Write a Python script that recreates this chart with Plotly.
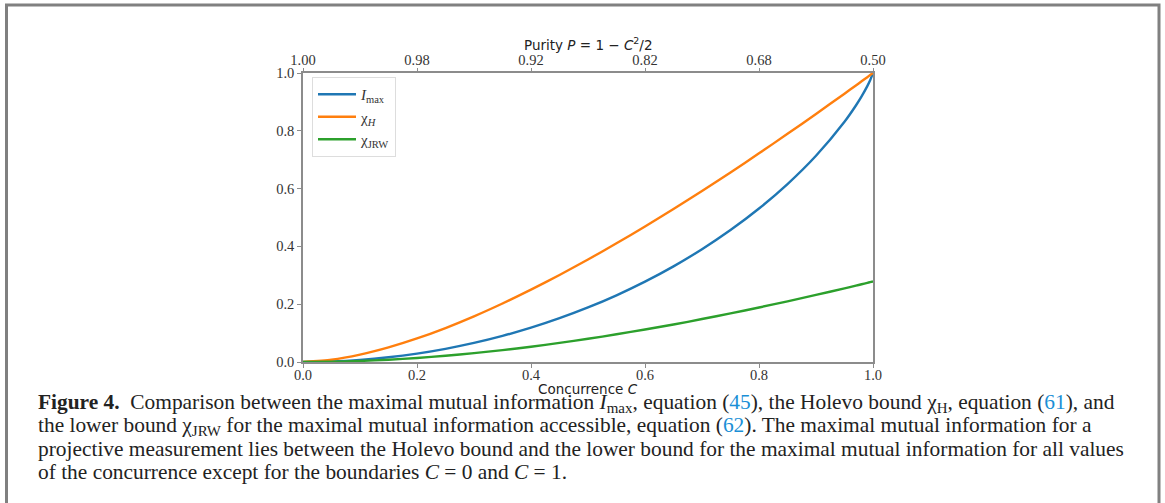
import plotly.graph_objects as go

# ---- data ----
concurrence = [0.0, 0.05, 0.1, 0.15, 0.2, 0.25, 0.3, 0.35, 0.4, 0.45, 0.5,
               0.55, 0.6, 0.65, 0.7, 0.75, 0.8, 0.85, 0.9, 0.95, 0.97, 0.98, 0.99, 0.995, 1.0]
i_max = [0.0, 0.0018, 0.0072, 0.0163, 0.0291, 0.0456, 0.0659, 0.0903, 0.1187, 0.1515, 0.1887,
         0.2308, 0.2781, 0.3310, 0.3902, 0.4564, 0.5310, 0.6157, 0.7136, 0.8313, 0.8876, 0.9192, 0.9546, 0.9748, 1.0]
chi_h = [0.0, 0.0076, 0.0253, 0.0504, 0.0815, 0.1176, 0.1581, 0.2025, 0.2502, 0.3010, 0.3546,
         0.4107, 0.4690, 0.5295, 0.5919, 0.6561, 0.7219, 0.7894, 0.8583, 0.9285, 0.9570, 0.9712, 0.9856, 0.9928, 1.0]
chi_jrw = [0.0, 0.0009, 0.0036, 0.0079, 0.0140, 0.0215, 0.0306, 0.0411, 0.0529, 0.0660, 0.0803,
           0.0958, 0.1124, 0.1297, 0.1486, 0.1681, 0.1886, 0.2099, 0.2321, 0.2550, 0.2643, 0.2690, 0.2738, 0.2762, 0.2787]

bottom_ticks = [0.0, 0.2, 0.4, 0.6, 0.8, 1.0]
bottom_ticktext = ["0.0", "0.2", "0.4", "0.6", "0.8", "1.0"]
top_ticktext = ["1.00", "0.98", "0.92", "0.82", "0.68", "0.50"]
y_ticks = [0.0, 0.2, 0.4, 0.6, 0.8, 1.0]
y_ticktext = ["0.0", "0.2", "0.4", "0.6", "0.8", "1.0"]

series_names = ["<i>I</i><sub>max</sub>", "χ<sub><i>H</i></sub>", "χ<sub>JRW</sub>"]
series_colors = ["#1f77b4", "#ff7f0e", "#2ca02c"]

x_title = "Concurrence <i>C</i>"
top_title = "Purity <i>P</i> = 1 − <i>C</i><sup>2</sup>/2"

caption_lines = [
    "<b>Figure 4.</b>  Comparison between the maximal mutual information <i>I</i><sub>max</sub>, equation (<span style='color:#1a8fd6'>45</span>), the Holevo bound χ<sub>H</sub>, equation (<span style='color:#1a8fd6'>61</span>), and",
    "the lower bound χ<sub>JRW</sub> for the maximal mutual information accessible, equation (<span style='color:#1a8fd6'>62</span>). The maximal mutual information for a",
    "projective measurement lies between the Holevo bound and the lower bound for the maximal mutual information for all values",
    "of the concurrence except for the boundaries <i>C</i> = 0 and <i>C</i> = 1.",
]

# ---- layout geometry (page pixels) ----
W, H = 1165, 503
L, R, T, B = 303, 873, 73, 362


def px_x(x):
    return (x - L) / (R - L)


def px_y(y):
    return (B - y) / (B - T)


fig = go.Figure()
for name, ys, col in zip(series_names, [i_max, chi_h, chi_jrw], series_colors):
    fig.add_trace(go.Scatter(x=concurrence, y=ys, mode="lines", name=name,
                             line=dict(color=col, width=2.4, shape="spline", smoothing=0.6)))
# invisible trace to activate the top axis
fig.add_trace(go.Scatter(x=concurrence, y=chi_h, xaxis="x2", mode="lines",
                         line=dict(width=0), showlegend=False, hoverinfo="skip", opacity=0))

axis_col = "#8c8c8c"
tickfont = dict(family="Liberation Serif, DejaVu Serif, serif", size=14.5, color="#333333")

fig.update_layout(
    width=W, height=H,
    margin=dict(l=L, r=W - R, t=T, b=H - B, pad=0),
    paper_bgcolor="white", plot_bgcolor="white",
    showlegend=True,
    legend=dict(x=px_x(312), y=px_y(77), xanchor="left", yanchor="top",
                bgcolor="rgba(255,255,255,0.9)", bordercolor="#dddddd", borderwidth=1,
                font=dict(family="Liberation Serif, DejaVu Serif, serif", size=15, color="#333333"),
                tracegroupgap=0, itemwidth=38),
    xaxis=dict(range=[0, 1], tickmode="array", tickvals=bottom_ticks, ticktext=bottom_ticktext,
               showgrid=False, zeroline=False, showline=True, linecolor=axis_col, linewidth=1.5,
               ticks="outside", ticklen=4, tickcolor=axis_col, tickfont=tickfont,
               ticklabelstandoff=-5),
    xaxis2=dict(range=[0, 1], overlaying="x", side="top", tickmode="array",
                tickvals=bottom_ticks, ticktext=top_ticktext,
                showgrid=False, zeroline=False, showline=True, linecolor=axis_col, linewidth=1.5,
                ticks="outside", ticklen=3, tickcolor=axis_col, tickfont=tickfont,
                ticklabelstandoff=-3),
    yaxis=dict(range=[0, 1], tickmode="array", tickvals=y_ticks, ticktext=y_ticktext,
               showgrid=False, zeroline=False, showline=True, linecolor=axis_col, linewidth=1.5,
               ticks="outside", ticklen=4, tickcolor=axis_col, tickfont=tickfont,
               mirror=True),
)

# axis titles
title_font = dict(family="DejaVu Sans, sans-serif", size=13.5, color="#222222")
fig.add_annotation(text=x_title, xref="paper", yref="paper", x=0.5, y=px_y(388.5),
                   xanchor="center", yanchor="middle", showarrow=False, font=title_font)
fig.add_annotation(text=top_title, xref="paper", yref="paper", x=0.5, y=px_y(44),
                   xanchor="center", yanchor="middle", showarrow=False, font=title_font)

# figure frame
fig.add_shape(type="rect", xref="paper", yref="paper",
              x0=px_x(6.5), x1=px_x(1159), y0=px_y(5), y1=px_y(520),
              line=dict(color="#808080", width=3), layer="below")

# caption
cap_y = [402.5, 425.5, 448.5, 472]
for txt, yy in zip(caption_lines, cap_y):
    fig.add_annotation(text=txt, xref="paper", yref="paper", x=px_x(36), y=px_y(yy),
                       xanchor="left", yanchor="middle", showarrow=False, align="left",
                       font=dict(family="Liberation Serif, serif", size=21.4, color="#222222"))

fig.write_html("out.html", config={"displayModeBar": False},
               post_script="document.body.style.margin='0px';document.body.style.overflow='hidden';")
